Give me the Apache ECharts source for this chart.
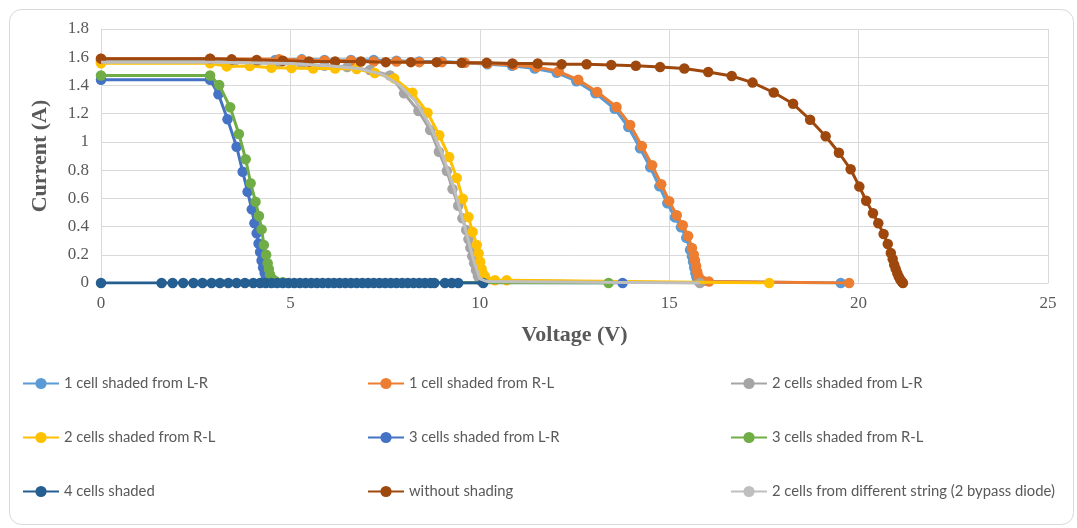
<!DOCTYPE html>
<html>
<head>
<meta charset="utf-8">
<script src="https://cdn.jsdelivr.net/npm/echarts@6/dist/echarts.min.js"></script>
<style>
html,body{margin:0;padding:0;background:#fff;}
#c{width:1077px;height:528px;}
</style>
</head>
<body>
<div id="c"></div>
<script>
var seriesNames = [
  '1 cell shaded from L-R',
  '1 cell shaded from R-L',
  '2 cells shaded from L-R',
  '2 cells shaded from R-L',
  '3 cells shaded from L-R',
  '3 cells shaded from R-L',
  '4 cells shaded',
  'without shading',
  '2 cells from different string (2 bypass diode)'
];
var xTicks = [0, 5, 10, 15, 20, 25];
var yTicks = [0, 0.2, 0.4, 0.6, 0.8, 1, 1.2, 1.4, 1.6, 1.8];

var oneCellLR = [[0,1.58],[2.88,1.585],[4.6,1.58],[5.3,1.585],[5.9,1.58],[6.6,1.58],[7.2,1.58],[7.8,1.575],[8.4,1.57],[9.0,1.57],[9.6,1.56],[10.2,1.55],[10.85,1.54],[11.45,1.52],[12.03,1.49],[12.55,1.43],[13.05,1.345],[13.56,1.235],[13.92,1.105],[14.23,0.955],[14.5,0.82],[14.74,0.685],[14.95,0.565],[15.15,0.465],[15.31,0.395],[15.45,0.32],[15.55,0.235],[15.6,0.19],[15.63,0.15],[15.66,0.11],[15.69,0.07],[15.72,0.04],[15.75,0.02],[15.85,0.01],[19.53,0]];
var oneCellRL = [[0,1.59],[2.88,1.59],[4.7,1.585],[5.3,1.58],[5.9,1.575],[6.6,1.575],[7.2,1.57],[7.8,1.57],[8.4,1.565],[9.0,1.565],[9.6,1.56],[10.2,1.555],[10.9,1.545],[11.5,1.53],[12.08,1.5],[12.6,1.44],[13.1,1.354],[13.61,1.247],[13.97,1.12],[14.28,0.97],[14.55,0.834],[14.79,0.7],[15.0,0.58],[15.2,0.48],[15.36,0.409],[15.5,0.333],[15.6,0.248],[15.65,0.2],[15.68,0.16],[15.71,0.12],[15.74,0.08],[15.77,0.05],[15.8,0.03],[15.9,0.015],[16.05,0.01],[19.75,0]];
var twoCellsLR = [[0,1.57],[2.88,1.57],[3.5,1.565],[4.1,1.56],[4.7,1.555],[5.3,1.55],[5.9,1.54],[6.5,1.53],[7.1,1.51],[7.63,1.47],[8.0,1.344],[8.38,1.219],[8.69,1.084],[8.92,0.93],[9.13,0.794],[9.28,0.666],[9.43,0.548],[9.54,0.458],[9.64,0.376],[9.7,0.31],[9.75,0.25],[9.8,0.19],[9.85,0.14],[9.9,0.09],[9.95,0.05],[10.0,0.02],[15.81,0]];
var twoCellsRL = [[0,1.557],[2.88,1.557],[3.32,1.535],[3.93,1.538],[4.5,1.526],[5.03,1.524],[5.6,1.52],[6.18,1.52],[6.75,1.517],[7.23,1.488],[7.74,1.45],[8.22,1.349],[8.62,1.207],[8.93,1.047],[9.19,0.893],[9.39,0.744],[9.55,0.597],[9.7,0.468],[9.81,0.361],[9.92,0.27],[9.97,0.21],[10.01,0.15],[10.05,0.1],[10.1,0.06],[10.14,0.045],[10.4,0.02],[10.71,0.02],[17.64,0]];
var threeCellsLR = [[0,1.44],[2.88,1.44],[3.1,1.337],[3.34,1.16],[3.58,0.966],[3.74,0.789],[3.87,0.647],[3.98,0.522],[4.05,0.423],[4.11,0.352],[4.16,0.28],[4.2,0.22],[4.24,0.16],[4.28,0.11],[4.32,0.07],[4.36,0.04],[4.42,0.01],[4.6,0.005],[13.77,0]];
var threeCellsRL = [[0,1.47],[2.88,1.47],[3.12,1.403],[3.41,1.245],[3.64,1.056],[3.82,0.877],[3.95,0.707],[4.08,0.576],[4.17,0.475],[4.24,0.38],[4.3,0.27],[4.36,0.2],[4.4,0.14],[4.43,0.1],[4.46,0.06],[4.52,0.03],[4.6,0.015],[4.8,0.005],[13.4,0]];
var fourCells = [[0,0],[1.6,0],[1.89,0],[2.17,0],[2.44,0],[2.68,0],[2.92,0],[3.14,0],[3.36,0],[3.58,0],[3.8,0],[4.02,0],[4.2,0],[4.35,0],[4.5,0],[4.65,0],[4.8,0],[4.95,0],[5.1,0],[5.25,0],[5.4,0],[5.55,0],[5.7,0],[5.85,0],[6.0,0],[6.15,0],[6.3,0],[6.45,0],[6.6,0],[6.75,0],[6.9,0],[7.05,0],[7.2,0],[7.35,0],[7.5,0],[7.65,0],[7.8,0],[7.95,0],[8.1,0],[8.25,0],[8.4,0],[8.55,0],[8.7,0],[8.8,0],[9.08,0],[9.26,0],[9.43,0],[10.09,0]];
var noShading = [[0,1.59],[2.88,1.59],[3.45,1.585],[4.11,1.58],[4.8,1.575],[5.49,1.57],[6.18,1.57],[6.86,1.57],[7.52,1.565],[8.18,1.565],[8.86,1.565],[9.52,1.56],[10.18,1.56],[10.86,1.555],[11.53,1.555],[12.16,1.55],[12.82,1.55],[13.47,1.545],[14.12,1.54],[14.76,1.53],[15.4,1.52],[16.03,1.495],[16.65,1.467],[17.2,1.42],[17.76,1.35],[18.27,1.27],[18.72,1.157],[19.13,1.04],[19.48,0.923],[19.79,0.806],[20.02,0.683],[20.2,0.583],[20.38,0.494],[20.52,0.423],[20.66,0.347],[20.77,0.276],[20.85,0.213],[20.9,0.17],[20.94,0.13],[20.98,0.1],[21.02,0.07],[21.06,0.045],[21.1,0.025],[21.14,0.01],[21.17,0]];
var diffString = [[0,1.565],[3,1.565],[5,1.555],[6,1.54],[6.8,1.52],[7.4,1.48],[7.9,1.4],[8.3,1.29],[8.7,1.11],[9.0,0.92],[9.3,0.69],[9.5,0.5],[9.7,0.3],[9.85,0.15],[10.0,0.03],[10.2,0.01],[15.8,0]];

var colors = ['#5B9BD5','#ED7D31','#A5A5A5','#FFC000','#4472C4','#70AD47','#255E91','#9E480E','#BFBFBF'];
var dataList = [oneCellLR, oneCellRL, twoCellsLR, twoCellsRL, threeCellsLR, threeCellsRL, fourCells, noShading, diffString];

var series = dataList.map(function(d, i){
  var noMarker = (i === 8);
  return {
    name: seriesNames[i],
    type: 'line',
    data: d,
    symbol: noMarker ? 'none' : 'circle',
    symbolSize: 10.5,
    showSymbol: !noMarker,
    lineStyle: {color: colors[i], width: 3},
    itemStyle: {color: colors[i], borderWidth: 0},
    z: 2 + i,
    animation: false
  };
});

var legendText = {color:'#595959', fontSize:14.8, fontFamily:'Lato'};
function mkLegend(names, left){
  return {
    data: names, orient:'vertical', left:left, top:376, itemGap:39, padding:0,
    itemWidth:36, itemHeight:14, itemTextGap:2, textStyle: legendText, selectedMode:false,
    itemStyle:{borderWidth:0}
  };
}

var serif = '"Times New Roman", "Liberation Serif", serif';
var chart = echarts.init(document.getElementById('c'), null, {renderer:'canvas'});
chart.setOption({
  backgroundColor:'#fff',
  animation:false,
  textStyle:{fontFamily: serif},
  graphic:[{type:'rect', shape:{x:9.5,y:9.5,width:1064,height:515,r:12}, style:{fill:'none', stroke:'#d9d9d9', lineWidth:1}, z:-1}],
  grid:{left:101, right:29, top:29, bottom:245},
  legend:[
    mkLegend([seriesNames[0], seriesNames[3], seriesNames[6]], 22),
    mkLegend([seriesNames[1], seriesNames[4], seriesNames[7]], 367),
    mkLegend([seriesNames[2], seriesNames[5], seriesNames[8]], 730)
  ],
  xAxis:{
    type:'value', min:xTicks[0], max:xTicks[xTicks.length-1], interval:5,
    name:'Voltage (V)', nameLocation:'middle', nameGap:41,
    nameTextStyle:{fontFamily:serif, fontWeight:'bold', fontSize:22, color:'#595959'},
    axisLine:{show:true, lineStyle:{color:'#d9d9d9'}},
    axisTick:{show:false},
    axisLabel:{fontFamily:serif, fontSize:17, color:'#595959', margin:12},
    splitLine:{show:true, lineStyle:{color:'#d9d9d9'}}
  },
  yAxis:{
    type:'value', min:yTicks[0], max:yTicks[yTicks.length-1], interval:0.2,
    name:'Current (A)', nameLocation:'middle', nameGap:50,
    nameTextStyle:{fontFamily:serif, fontWeight:'bold', fontSize:22, color:'#595959'},
    axisLine:{show:true, lineStyle:{color:'#d9d9d9'}},
    axisTick:{show:false},
    axisLabel:{fontFamily:serif, fontSize:17, color:'#595959', margin:12,
      formatter:function(v){ return String(+v.toFixed(1)); }},
    splitLine:{show:true, lineStyle:{color:'#d9d9d9'}}
  },
  series: series
});
</script>
</body>
</html>
